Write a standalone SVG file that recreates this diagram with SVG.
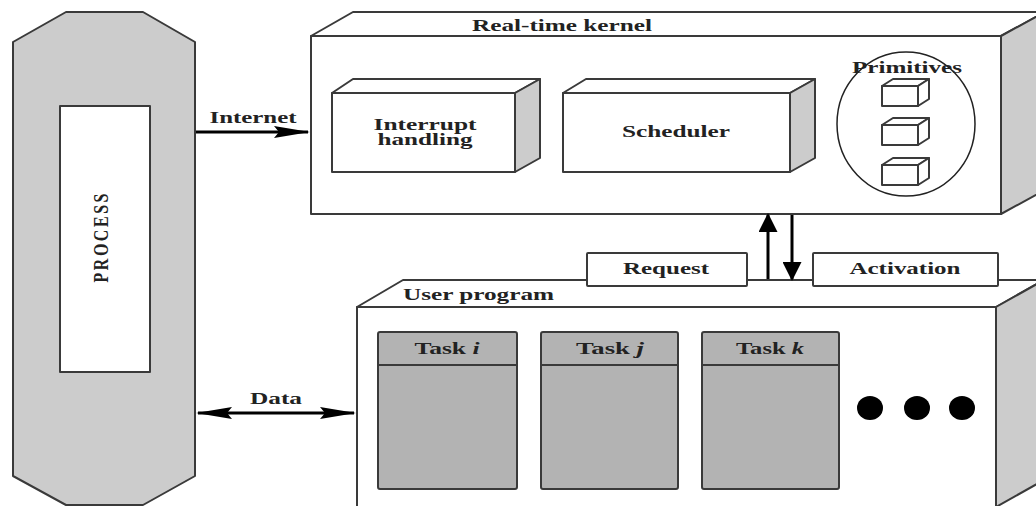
<svg xmlns="http://www.w3.org/2000/svg" width="1036" height="506" viewBox="0 0 1036 506">
<style>
.ln{stroke:#3a3a3a;stroke-width:2;stroke-linejoin:round}
.w{fill:#ffffff}
.g{fill:#cccccc}
.t{fill:#b3b3b3}
.lbl{font-family:"Liberation Serif","Times New Roman",serif;font-weight:bold;font-size:16px;fill:#222}
.arr{stroke:#000;stroke-width:3;fill:none}
</style>
<defs>
<marker id="hh" markerUnits="userSpaceOnUse" markerWidth="36" markerHeight="12" refX="34" refY="6" orient="auto-start-reverse">
<path d="M0,0 L36,6 L0,12 L5,6 z" fill="#000"/>
</marker>
<marker id="hv" markerUnits="userSpaceOnUse" markerWidth="19" markerHeight="19" refX="17" refY="9.5" orient="auto">
<path d="M0,0 L19,9.5 L0,19 z" fill="#000"/>
</marker>
</defs>
<rect width="1036" height="506" fill="#ffffff"/>

<g id="process">
<polygon class="ln g" points="13,42 66,12 143,12 195,42 195,476 143,505 66,505 13,476"/>
<rect class="ln w" x="60" y="106" width="90" height="266"/>
<text class="lbl" transform="translate(108,238) rotate(-90) scale(1,1.35)" text-anchor="middle" font-size="17" textLength="89" lengthAdjust="spacing">PROCESS</text>
</g>

<g id="kernel">
<polygon class="ln w" points="311,36 353,12 1045,12 1001,36"/>
<polygon class="ln g" points="1001,36 1045,12 1045,190 1001,214"/>
<rect class="ln w" x="311" y="36" width="690" height="178"/>
<text class="lbl" x="562" y="31" text-anchor="middle" textLength="180" lengthAdjust="spacingAndGlyphs">Real-time kernel</text>
</g>

<g id="interrupt">
<polygon class="ln w" points="332,93 353,79 540,79 515,93"/>
<polygon class="ln g" points="515,93 540,79 540,158 515,172"/>
<rect class="ln w" x="332" y="93" width="183" height="79"/>
<text class="lbl" x="425" y="130" text-anchor="middle" textLength="103" lengthAdjust="spacingAndGlyphs">Interrupt</text>
<text class="lbl" x="425" y="145" text-anchor="middle" textLength="95" lengthAdjust="spacingAndGlyphs">handling</text>
</g>

<g id="scheduler">
<polygon class="ln w" points="563,93 586,79 815,79 790,93"/>
<polygon class="ln g" points="790,93 815,79 815,158 790,172"/>
<rect class="ln w" x="563" y="93" width="227" height="79"/>
<text class="lbl" x="676" y="137" text-anchor="middle" textLength="108" lengthAdjust="spacingAndGlyphs">Scheduler</text>
</g>

<g id="primitives">
<ellipse cx="906" cy="124" rx="69" ry="72" fill="none" stroke="#222" stroke-width="1.5"/>
<text class="lbl" x="907" y="73" text-anchor="middle" textLength="110" lengthAdjust="spacingAndGlyphs">Primitives</text>
<g>
<polygon class="ln w" points="882,86 893,79 929,79 918,86"/>
<polygon class="ln w" points="918,86 929,79 929,99 918,106"/>
<rect class="ln w" x="882" y="86" width="36" height="20"/>
<polygon class="ln w" points="882,125 893,118 929,118 918,125"/>
<polygon class="ln w" points="918,125 929,118 929,138 918,145"/>
<rect class="ln w" x="882" y="125" width="36" height="20"/>
<polygon class="ln w" points="882,165 893,158 929,158 918,165"/>
<polygon class="ln w" points="918,165 929,158 929,178 918,185"/>
<rect class="ln w" x="882" y="165" width="36" height="20"/>
</g>
</g>

<g id="user-program">
<polygon class="ln w" points="357,307 403,280 1044,280 996,307"/>
<polygon class="ln g" points="996,307 1044,280 1044,480 996,507"/>
<rect class="ln w" x="357" y="307" width="639" height="200"/>
<text class="lbl" x="403" y="300" textLength="151" lengthAdjust="spacingAndGlyphs">User program</text>
</g>

<g id="task-i">
<rect class="ln t" x="378" y="332" width="139" height="157" rx="2"/>
<line class="ln" x1="378" y1="365" x2="517" y2="365"/>
<text class="lbl" x="447" y="354" text-anchor="middle" textLength="65" lengthAdjust="spacingAndGlyphs">Task <tspan font-style="italic">i</tspan></text>
</g>
<g id="task-j">
<rect class="ln t" x="541" y="332" width="137" height="157" rx="2"/>
<line class="ln" x1="541" y1="365" x2="678" y2="365"/>
<text class="lbl" x="610" y="354" text-anchor="middle" textLength="68" lengthAdjust="spacingAndGlyphs">Task <tspan font-style="italic">j</tspan></text>
</g>
<g id="task-k">
<rect class="ln t" x="702" y="332" width="137" height="157" rx="2"/>
<line class="ln" x1="702" y1="365" x2="839" y2="365"/>
<text class="lbl" x="770" y="354" text-anchor="middle" textLength="68" lengthAdjust="spacingAndGlyphs">Task <tspan font-style="italic">k</tspan></text>
</g>

<g id="dots" fill="#000">
<ellipse cx="870" cy="408" rx="13" ry="12"/>
<ellipse cx="917" cy="408" rx="13" ry="12"/>
<ellipse cx="962" cy="408" rx="13" ry="12"/>
</g>

<g id="request">
<rect class="ln w" x="587" y="253" width="160" height="33" rx="1"/>
<text class="lbl" x="666" y="274" text-anchor="middle" textLength="86" lengthAdjust="spacingAndGlyphs">Request</text>
</g>
<g id="activation">
<rect class="ln w" x="813" y="253" width="185" height="33" rx="1"/>
<text class="lbl" x="905" y="274" text-anchor="middle" textLength="111" lengthAdjust="spacingAndGlyphs">Activation</text>
</g>

<g id="connectors">
<line class="arr" x1="196" y1="132" x2="308" y2="132" marker-end="url(#hh)"/>
<text class="lbl" x="253" y="123" text-anchor="middle" textLength="87" lengthAdjust="spacingAndGlyphs">Internet</text>
<line class="arr" x1="198" y1="413" x2="354" y2="413" marker-start="url(#hh)" marker-end="url(#hh)"/>
<text class="lbl" x="276" y="404" text-anchor="middle" textLength="52" lengthAdjust="spacingAndGlyphs">Data</text>
<line class="arr" x1="768" y1="279" x2="768" y2="215" marker-end="url(#hv)"/>
<line class="arr" x1="792" y1="215" x2="792" y2="279" marker-end="url(#hv)"/>
</g>
</svg>
